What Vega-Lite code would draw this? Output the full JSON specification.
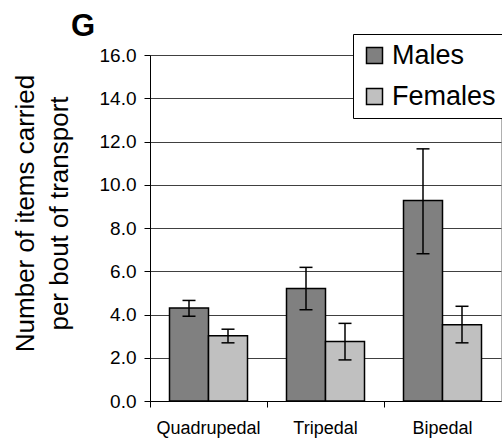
{
  "$schema": "https://vega.github.io/schema/vega-lite/v6.json",
  "width": 351,
  "height": 346,
  "autosize": {"type": "none"},
  "padding": {"left": 150, "top": 55, "right": 1, "bottom": 43},
  "background": "white",
  "title": {
    "text": "G",
    "anchor": "start",
    "frame": "group",
    "font": "Liberation Sans",
    "fontSize": 31,
    "fontWeight": "bold",
    "color": "black",
    "baseline": "alphabetic",
    "dx": -79,
    "dy": 37
  },
  "data": {
    "values": [
      {"mode": "Quadrupedal", "sex": "Males", "value": 4.3, "lo": 3.92, "hi": 4.65},
      {"mode": "Quadrupedal", "sex": "Females", "value": 3.02, "lo": 2.69, "hi": 3.32},
      {"mode": "Tripedal", "sex": "Males", "value": 5.2, "lo": 4.22, "hi": 6.18},
      {"mode": "Tripedal", "sex": "Females", "value": 2.75, "lo": 1.9, "hi": 3.59},
      {"mode": "Bipedal", "sex": "Males", "value": 9.27, "lo": 6.81, "hi": 11.66},
      {"mode": "Bipedal", "sex": "Females", "value": 3.53, "lo": 2.69, "hi": 4.38}
    ]
  },
  "encoding": {
    "x": {
      "field": "mode",
      "type": "nominal",
      "sort": ["Quadrupedal", "Tripedal", "Bipedal"],
      "scale": {"paddingInner": 0, "paddingOuter": 0},
      "axis": {
        "title": null,
        "bandPosition": 0,
        "labelAngle": 0,
        "labelFont": "Liberation Sans",
        "labelFontSize": 18,
        "labelColor": "black",
        "labelPadding": 12,
        "tickSize": 6,
        "tickColor": "black",
        "domainColor": "black",
        "grid": false
      }
    },
    "xOffset": {
      "field": "sex",
      "type": "nominal",
      "sort": ["Males", "Females"],
      "scale": {"paddingInner": 0, "paddingOuter": 0.5}
    }
  },
  "layer": [
    {
      "mark": {"type": "bar", "stroke": "black", "strokeWidth": 1.5},
      "encoding": {
        "y": {
          "field": "value",
          "type": "quantitative",
          "scale": {"domain": [0, 16], "nice": false},
          "axis": {
            "values": [0, 2, 4, 6, 8, 10, 12, 14, 16],
            "format": ".1f",
            "labelFont": "Liberation Sans",
            "labelFontSize": 19,
            "labelColor": "black",
            "labelPadding": 8,
            "tickSize": 6,
            "tickColor": "black",
            "domainColor": "black",
            "grid": true,
            "gridColor": "#404040",
            "title": ["Number of items carried", "per bout of transport"],
            "titleFont": "Liberation Sans",
            "titleFontSize": 26,
            "titleFontWeight": "normal",
            "titleColor": "black",
            "titleAngle": -90,
            "titleAlign": "center",
            "titleBaseline": "alphabetic",
            "titleLineHeight": 34,
            "titleX": -117,
            "titleY": 158
          }
        },
        "color": {
          "field": "sex",
          "type": "nominal",
          "scale": {"domain": ["Males", "Females"], "range": ["#808080", "#c0c0c0"]},
          "legend": {
            "orient": "none",
            "legendX": 203,
            "legendY": -21,
            "title": null,
            "fillColor": "white",
            "strokeColor": "black",
            "padding": 8,
            "symbolType": "square",
            "symbolSize": 256,
            "symbolStrokeColor": "black",
            "symbolStrokeWidth": 1.5,
            "symbolOpacity": 1,
            "labelFont": "Liberation Sans",
            "labelFontSize": 27,
            "labelColor": "black",
            "labelOffset": 4,
            "rowPadding": 13
          }
        }
      }
    },
    {
      "mark": {"type": "rule", "stroke": "black", "strokeWidth": 1.5},
      "encoding": {
        "y": {"field": "lo", "type": "quantitative"},
        "y2": {"field": "hi"}
      }
    },
    {
      "mark": {"type": "tick", "color": "black", "size": 13, "thickness": 1.5, "opacity": 1},
      "encoding": {"y": {"field": "lo", "type": "quantitative"}}
    },
    {
      "mark": {"type": "tick", "color": "black", "size": 13, "thickness": 1.5, "opacity": 1},
      "encoding": {"y": {"field": "hi", "type": "quantitative"}}
    }
  ],
  "config": {
    "view": {"stroke": "#b0b0b0"}
  }
}
